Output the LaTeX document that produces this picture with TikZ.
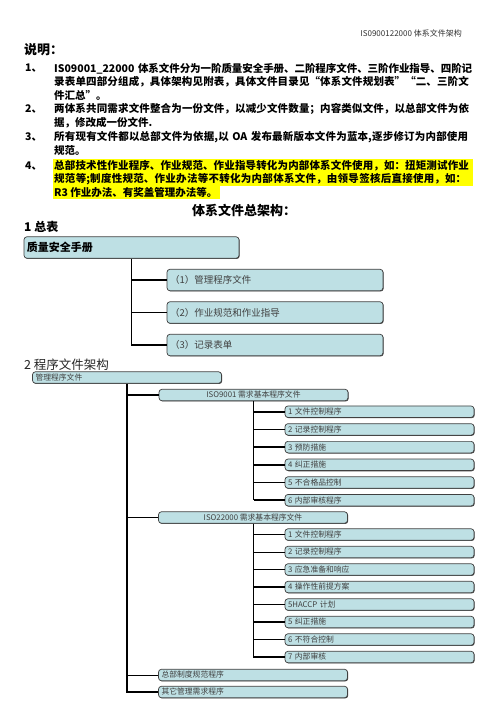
\documentclass[tikz,border=0pt]{standalone}
\usepackage{fontspec}
\setmainfont{Noto Sans CJK SC}
\XeTeXlinebreaklocale "zh"
\XeTeXlinebreakskip=0pt plus 1pt minus 0.4pt
\usepackage{xcolor}
\definecolor{bb}{RGB}{190,224,228}
\definecolor{hl}{RGB}{255,255,0}
\usetikzlibrary{shadows}

\tikzset{
  note/.style={anchor=west, inner sep=0pt, font=\fontsize{10.5}{12}\selectfont\bfseries},
  fullnote/.style={note, text width=418pt},
  box/.style={draw=black!75, line width=0.7pt, rounded corners=3pt, fill=bb,
    drop shadow={shadow xshift=0.7pt, shadow yshift=-0.7pt, fill=black!75, opacity=1},
    inner xsep=3pt, inner ysep=0pt, align=left, text=black!75},
  bigbox/.style={box, minimum height=21.5pt, text width=210pt, font=\fontsize{9.5}{11}\selectfont},
  smallbox/.style={box, minimum height=11.5pt, text width=183pt, font=\fontsize{7.8}{9}\selectfont},
  isobox/.style={box, minimum height=11.5pt, minimum width=189pt, font=\fontsize{7.8}{9}\selectfont},
  trunk/.style={line width=1.6pt},
  twig/.style={line width=0.8pt},
}

\begin{document}
\begin{tikzpicture}[x=1pt, y=-1pt]
    \fill[white] (0,0) rectangle (496,702);
    \useasboundingbox (0,0) rectangle (496,702);

    % header and notes
    \node[anchor=east, inner sep=0pt, font=\fontsize{8}{9}\selectfont, text=black!80] (hd) at (462,33) {IS0900122000 体系文件架构};
    \node[anchor=west, inner sep=0pt, font=\fontsize{13}{15}\selectfont\bfseries] (sm) at (24,50) {说明：};

    \fill[hl] (53,159) rectangle (473,186);
    \fill[hl] (53,186) rectangle (220,199);

    \node[note] (k1) at (25,68.5) {1、};
    \node[fullnote] (l11) at (54,68.5) {\noindent\parfillskip=0pt IS09001\_22000 体系文件分为一阶质量安全手册、二阶程序文件、三阶作业指导、四阶记\par};
    \node[fullnote] (l12) at (54,82) {\noindent\parfillskip=0pt 录表单四部分组成，具体架构见附表，具体文件目录见“体系文件规划表”“二、三阶文\par};
    \node[note] (l13) at (54,95.5) {件汇总”。};

    \node[note] (k2) at (25,109) {2、};
    \node[fullnote] (l21) at (54,109) {\noindent\parfillskip=0pt 两体系共同需求文件整合为一份文件，以减少文件数量；内容类似文件，以总部文件为依\par};
    \node[note] (l22) at (54,122.5) {据，修改成一份文件.};

    \node[note] (k3) at (25,137.5) {3、};
    \node[fullnote] (l31) at (54,137.5) {\noindent\parfillskip=0pt 所有现有文件都以总部文件为依据,以 OA 发布最新版本文件为蓝本,逐步修订为内部使用\par};
    \node[note] (l32) at (54,151) {规范。};

    \node[note] (k4) at (25,166) {4、};
    \node[fullnote] (l41) at (54,166) {\noindent\parfillskip=0pt 总部技术性作业程序、作业规范、作业指导转化为内部体系文件使用，如：扭矩测试作业\par};
    \node[fullnote] (l42) at (54,179.5) {\noindent\parfillskip=0pt 规范等;制度性规范、作业办法等不转化为内部体系文件，由领导签核后直接使用，如：\par};
    \node[note] (l43) at (54,192.5) {R3 作业办法、有奖盖管理办法等。};

    \node[font=\fontsize{13}{15}\selectfont\bfseries] (tt) at (244,210) {体系文件总架构：};

    % 1 overview
    \node[anchor=west, inner sep=0pt, font=\fontsize{12}{14}\selectfont\bfseries] (s1) at (24,227) {1 总表};
    \node[bigbox, text width=209pt, font=\fontsize{11}{13}\selectfont\bfseries, text=black] (zl) at (131.5,247.5) {质量安全手册};
    \node[bigbox] (c1) at (275,280) {（1）管理程序文件};
    \node[bigbox] (c2) at (275,312.5) {（2）作业规范和作业指导};
    \node[bigbox] (c3) at (275,345) {（3）记录表单};

    \draw[trunk] (zl.south) |- (c3.west);
    \foreach \n in {c1,c2}
        \draw[trunk] (zl.south |- \n.west) -- (\n.west);

    % 2 procedures
    \node[anchor=west, inner sep=0pt, font=\fontsize{12.5}{14}\selectfont, text=black!85] (s2) at (24,365) {2 程序文件架构};
    \node[smallbox] (gl) at (127,377.5) {管理程序文件};
    \node[isobox] (iso1) at (253.5,395) {ISO9001 需求基本程序文件};
    \foreach \t [count=\i] in {1 文件控制程序, 2 记录控制程序, 3 预防措施, 4 纠正措施, 5 不合格品控制, 6 内部审核程序}
        \node[smallbox] (a\i) at (379.5,{394+17.7*\i}) {\t};
    \node[isobox] (iso2) at (253,517.5) {ISO22000 需求基本程序文件};
    \foreach \t [count=\i] in {1 文件控制程序, 2 记录控制程序, 3 应急准备和响应, 4 操作性前提方案, 5HACCP 计划, 5 纠正措施, 6 不符合控制, 7 内部审核}
        \node[smallbox] (b\i) at (379.5,{517+17.5*\i}) {\t};
    \node[smallbox] (zb) at (253,675) {总部制度规范程序};
    \node[smallbox] (qt) at (253,692) {其它管理需求程序};

    \draw[trunk] (gl.south) |- (qt.west);
    \draw[trunk] (gl.south |- iso1.west) -- (iso1.west);
    \draw[twig] (gl.south |- iso2.west) -- (iso2.west);
    \draw[twig] (gl.south |- zb.west) -- (zb.west);

    \draw[twig] (iso1.south) -- (iso1.south |- a6.west);
    \foreach \n in {a1,a2,a3,a4,a5,a6}
        \draw[trunk] (iso1.south |- \n.west) -- (\n.west);
    \draw[twig] (iso2.south) -- (iso2.south |- b8.west);
    \foreach \n in {b1,b3,b4,b5,b6,b8}
        \draw[trunk] (iso2.south |- \n.west) -- (\n.west);
    \foreach \n in {b2,b7}
        \draw[twig] (iso2.south |- \n.west) -- (\n.west);
\end{tikzpicture}
\end{document}
